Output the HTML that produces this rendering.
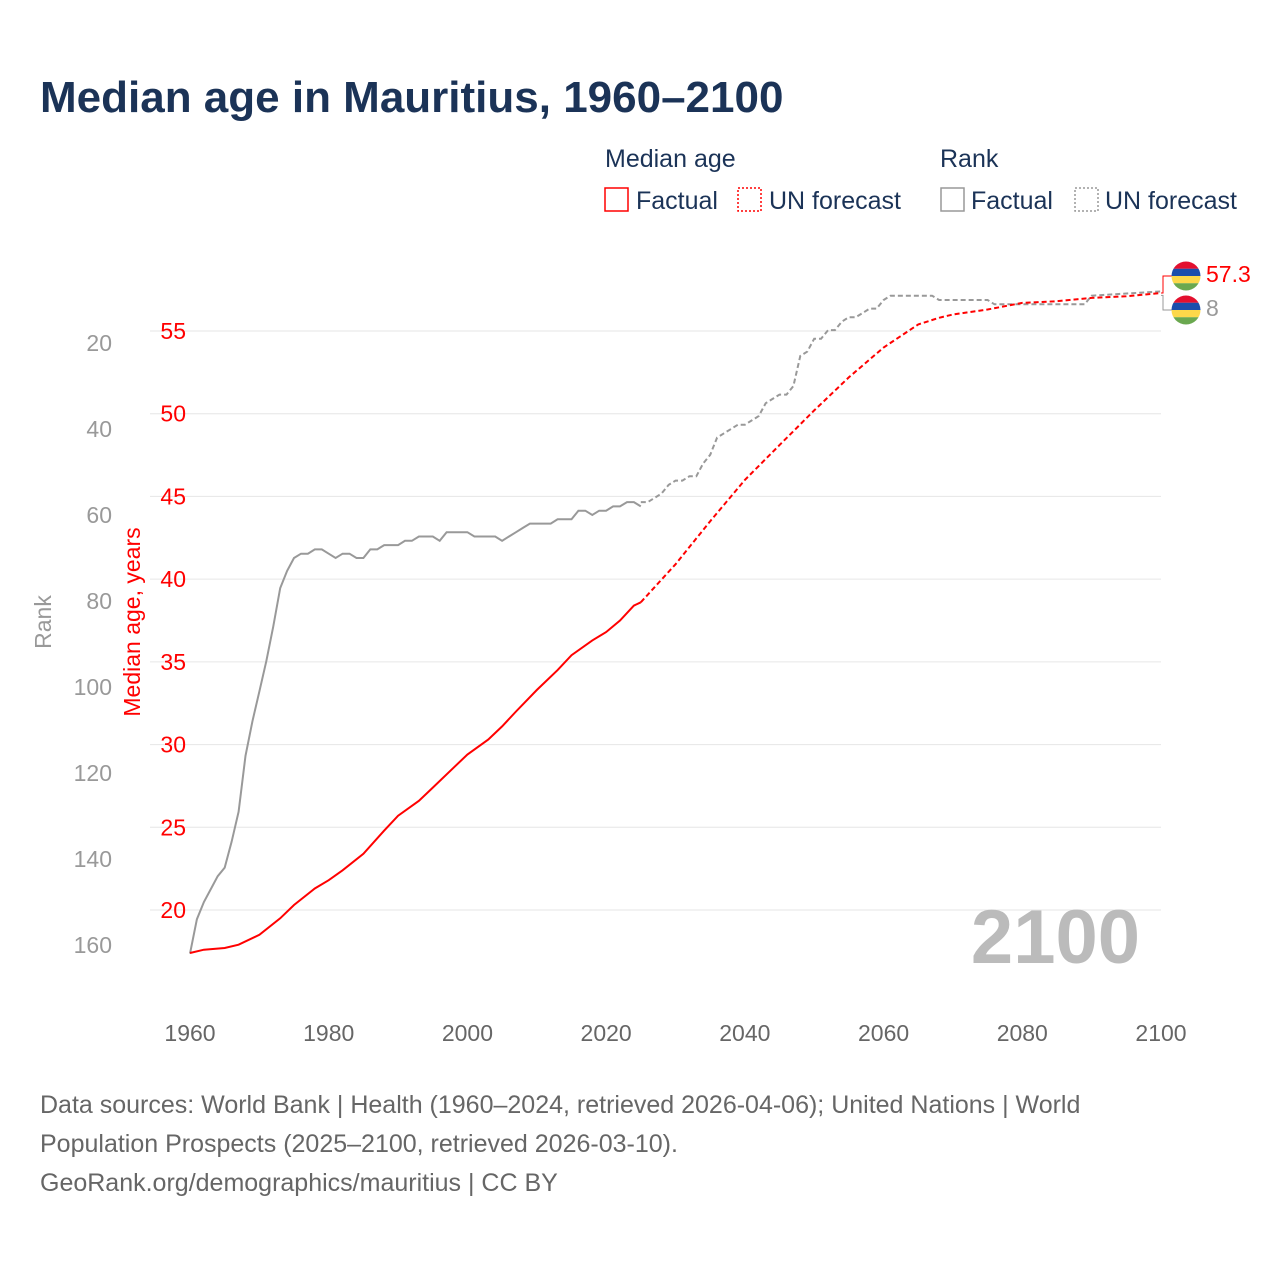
<!DOCTYPE html>
<html><head><meta charset="utf-8"><style>
body{margin:0;background:#fff;font-family:"Liberation Sans",sans-serif}
svg text{font-family:"Liberation Sans",sans-serif}
</style></head><body>
<svg id="chart" width="1280" height="1280" viewBox="0 0 1280 1280">
<text x="40" y="112" font-size="44" font-weight="bold" fill="#1b3357">Median age in Mauritius, 1960–2100</text>
<g>
<text x="605" y="167" font-size="25" fill="#1b3357">Median age</text>
<rect x="605" y="188" width="23" height="23" fill="none" stroke="#f00" stroke-width="1.5"/>
<text x="636" y="209" font-size="25" fill="#1b3357">Factual</text>
<rect x="738" y="188" width="23" height="23" fill="none" stroke="#f00" stroke-width="1.5" stroke-dasharray="2,2"/>
<text x="769" y="209" font-size="25" fill="#1b3357">UN forecast</text>
<text x="940" y="167" font-size="25" fill="#1b3357">Rank</text>
<rect x="941" y="188" width="23" height="23" fill="none" stroke="#999" stroke-width="1.5"/>
<text x="971" y="209" font-size="25" fill="#1b3357">Factual</text>
<rect x="1075" y="188" width="23" height="23" fill="none" stroke="#999" stroke-width="1.5" stroke-dasharray="2,2"/>
<text x="1105" y="209" font-size="25" fill="#1b3357">UN forecast</text>
</g>
<g id="grid"></g>
<g id="axes"></g>
<text x="1140" y="963" font-size="76" font-weight="bold" fill="#bbb" text-anchor="end">2100</text>
<g id="series"></g>
<text transform="translate(51,622) rotate(-90)" font-size="23" fill="#999" text-anchor="middle">Rank</text>
<text transform="translate(140,622) rotate(-90)" font-size="23" fill="#f00" text-anchor="middle">Median age, years</text>
<g>
<text x="40" y="1113" font-size="25" fill="#666">Data sources: World Bank | Health (1960–2024, retrieved 2026-04-06); United Nations | World</text>
<text x="40" y="1152" font-size="25" fill="#666">Population Prospects (2025–2100, retrieved 2026-03-10).</text>
<text x="40" y="1191" font-size="25" fill="#666">GeoRank.org/demographics/mauritius | CC BY</text>
</g>
</svg>
<script>
const ageYears=[1960,1962,1965,1967,1970,1973,1975,1978,1980,1982,1985,1988,1990,1993,1995,1998,2000,2003,2005,2007,2010,2013,2015,2018,2020,2022,2024,2025];
const ageValues=[17.4,17.6,17.7,17.9,18.5,19.5,20.3,21.3,21.8,22.4,23.4,24.8,25.7,26.6,27.4,28.6,29.4,30.3,31.1,32,33.3,34.5,35.4,36.3,36.8,37.5,38.4,38.6];
const ageFcYears=[2025,2030,2035,2040,2045,2050,2055,2060,2065,2068,2070,2075,2080,2085,2090,2095,2100];
const ageFcValues=[38.6,40.9,43.5,46.0,48.1,50.2,52.2,54.0,55.4,55.8,56.0,56.3,56.7,56.8,57.0,57.1,57.3];
const rankYears=[1960,1961,1962,1963,1964,1965,1966,1967,1968,1969,1970,1971,1972,1973,1974,1975,1976,1977,1978,1979,1980,1981,1982,1983,1984,1985,1986,1987,1988,1989,1990,1991,1992,1993,1994,1995,1996,1997,1998,1999,2000,2001,2002,2003,2004,2005,2006,2007,2008,2009,2010,2011,2012,2013,2014,2015,2016,2017,2018,2019,2020,2021,2022,2023,2024,2025];
const rankValues=[162,154,150,147,144,142,136,129,116,108,101,94,86,77,73,70,69,69,68,68,69,70,69,69,70,70,68,68,67,67,67,66,66,65,65,65,66,64,64,64,64,65,65,65,65,66,65,64,63,62,62,62,62,61,61,61,59,59,60,59,59,58,58,57,57,58,57];
const rankFcYears=[2025,2026,2027,2028,2029,2030,2031,2032,2033,2034,2035,2036,2037,2038,2039,2040,2041,2042,2043,2044,2045,2046,2047,2048,2049,2050,2051,2052,2053,2054,2055,2056,2057,2058,2059,2060,2061,2067,2068,2075,2076,2089,2090,2100];
const rankFcValues=[57,57,56,55,53,52,52,51,51,48,46,42,41,40,39,39,38,37,34,33,32,32,30,23,22,19,19,17,17,15,14,14,13,12,12,10,9,9,10,10,11,11,9,8];
const xTicks=[1960,1980,2000,2020,2040,2060,2080,2100];
const ageTicks=[20,25,30,35,40,45,50,55];
const rankTicks=[20,40,60,80,100,120,140,160];
const NS="http://www.w3.org/2000/svg";
const X=y=>190+(y-1960)*971/140;
const YA=a=>331+(55-a)*579/35;
const YR=r=>343+(r-20)*602/140;
function mk(tag,attrs,parent){const e=document.createElementNS(NS,tag);for(const k in attrs)e.setAttribute(k,attrs[k]);parent.appendChild(e);return e;}
const grid=document.getElementById('grid'),axes=document.getElementById('axes'),ser=document.getElementById('series');
ageTicks.forEach(t=>{
 const l=mk('line',{x1:150,x2:1161,y1:YA(t),y2:YA(t),stroke:'#e6e6e6','stroke-width':1},grid);
 
 
 const tx=mk('text',{x:186,y:YA(t)+8,'font-size':23,fill:'#f00','text-anchor':'end'},axes);tx.textContent=t;
 
 
});
rankTicks.forEach(t=>{
 const tx=mk('text',{x:112,y:YR(t)+8,'font-size':23,fill:'#999','text-anchor':'end'},axes);tx.textContent=t;
 
 
});
xTicks.forEach(t=>{
 const tx=mk('text',{x:X(t),y:1041,'font-size':23,fill:'#666','text-anchor':'middle'},axes);tx.textContent=t;
 
 
});
function line(xs,vs,fy,color,dash,name){
 const d=xs.map((y,i)=>(i?'L':'M')+X(y).toFixed(1)+','+fy(vs[i]).toFixed(1)).join('');
 const p=mk('path',{d:d,fill:'none',stroke:color,'stroke-width':2,'stroke-dasharray':dash},ser);
 
 
}
line(rankYears,rankValues,YR,'#999','none','rank-factual-line');
line(rankFcYears,rankFcValues,YR,'#999','5,3','rank-forecast-line');
line(ageYears,ageValues,YA,'#f00','none','age-factual-line');
line(ageFcYears,ageFcValues,YA,'#f00','5,3','age-forecast-line');
const ay=YA(ageFcValues[ageFcValues.length-1]),ry=YR(rankFcValues[rankFcValues.length-1])+4;
const c1=mk('path',{d:`M1161,${ay}H1163V276H1172`,fill:'none',stroke:'#f00','stroke-width':1},ser);


const c2=mk('path',{d:`M1161,${ry}H1163V310H1172`,fill:'none',stroke:'#999','stroke-width':1},ser);


[[276,'age-flag'],[310,'rank-flag']].forEach(([cy,nm])=>{
 const g=mk('g',{},ser);
 
 
 const cid='clip'+cy;
 const cp=mk('clipPath',{id:cid},g);mk('circle',{cx:1186,cy:cy,r:14.5},cp);
 ['#e3102f','#1a4eac','#fcd84a','#6aa84f'].forEach((c,i)=>mk('rect',{x:1171,y:cy-14.5+i*7.25,width:30,height:7.3,fill:c,'clip-path':`url(#${cid})`},g));
});
const t1=mk('text',{x:1206,y:282,'font-size':23,fill:'#f00'},ser);t1.textContent=ageFcValues[ageFcValues.length-1].toFixed(1);


const t2=mk('text',{x:1206,y:316,'font-size':23,fill:'#999'},ser);t2.textContent=rankFcValues[rankFcValues.length-1];


</script>
</body></html>
